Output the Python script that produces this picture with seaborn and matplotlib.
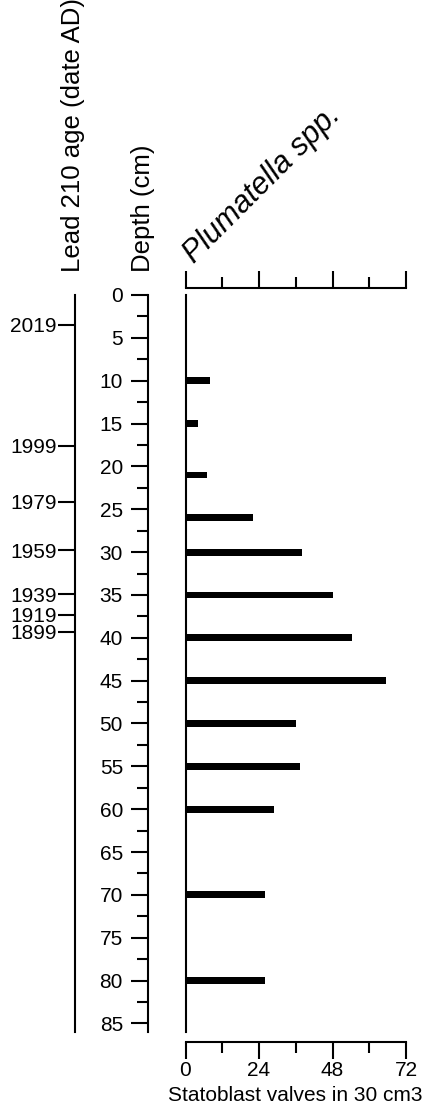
import numpy as np
import pandas as pd
import matplotlib
matplotlib.use("Agg")
import matplotlib.pyplot as plt
from matplotlib.ticker import MultipleLocator
import seaborn as sns

# data
depths = [10, 15, 21, 26, 30, 35, 40, 45, 50, 55, 60, 70, 80]
valves = [8, 4, 7, 22, 38, 48, 54.5, 65.5, 36, 37.5, 29, 26, 26]

age_depths = [3.5, 17.6, 24.1, 29.8, 34.9, 37.3, 39.3]
age_labels = ["2019", "1999", "1979", "1959", "1939", "1919", "1899"]

df = pd.DataFrame({"depth": depths, "valves": valves})

sns.set_style("white")
plt.rcParams["font.family"] = ["Liberation Sans", "DejaVu Sans"]
plt.rcParams["text.color"] = "black"
plt.rcParams["axes.labelcolor"] = "black"

W, H = 424, 1113
fig = plt.figure(figsize=(W / 100, H / 100), dpi=100)

y_top, y_bot = 295, 1032
bot = 1 - y_bot / H
hgt = (y_bot - y_top) / H

TICK_FS = 15
TITLE_FS = 18.5

# bar panel
ax = fig.add_axes([185.5 / W, bot, (406 - 185.5) / W, hgt])
sns.barplot(data=df, x="valves", y="depth", orient="y", native_scale=True,
            width=0.2, color="black", saturation=1, edgecolor="none", ax=ax)
ax.set_xlim(0, 72)
ax.set_ylim(86, 0)
ax.set_ylabel("")
ax.set_xlabel("Statoblast valves in 30 cm3", fontsize=TICK_FS, labelpad=4)
ax.spines["right"].set_visible(False)
for s in ["left", "top", "bottom"]:
    ax.spines[s].set_linewidth(1.5)
    ax.spines[s].set_color("black")
ax.spines["top"].set_position(("outward", 5))
ax.spines["bottom"].set_position(("outward", 7))
ax.xaxis.set_major_locator(MultipleLocator(24))
ax.xaxis.set_minor_locator(MultipleLocator(12))
ax.tick_params(axis="x", which="both", top=True, bottom=True, direction="out",
               width=1.5, colors="black", labelsize=TICK_FS)
ax.tick_params(axis="x", which="major", length=12, pad=2)
ax.tick_params(axis="x", which="minor", length=8)
ax.tick_params(axis="y", left=False, labelleft=False)
ax.text(0.06, 1.035, "Plumatella spp.", transform=ax.transAxes, rotation=45,
        fontsize=22, style="italic", ha="left", va="bottom",
        rotation_mode="anchor")

# depth axis
axd = fig.add_axes([148 / W, bot, 0.01, hgt])
axd.set_ylim(86, 0)
for s in ["right", "top", "bottom"]:
    axd.spines[s].set_visible(False)
axd.spines["left"].set_linewidth(1.5)
axd.spines["left"].set_color("black")
axd.yaxis.set_major_locator(MultipleLocator(5))
axd.yaxis.set_minor_locator(MultipleLocator(2.5))
axd.tick_params(axis="y", which="both", left=True, direction="out", width=1.5,
                colors="black", labelsize=TICK_FS, labelleft=True)
axd.tick_params(axis="y", which="major", length=12, pad=6)
axd.tick_params(axis="y", which="minor", length=8)
axd.set_xticks([])
axd.patch.set_alpha(0)
fig.text(143 / W, 1 - 272 / H, "Depth (cm)", rotation=90, fontsize=TITLE_FS,
         ha="center", va="bottom")

# age axis
axa = fig.add_axes([75 / W, bot, 0.01, hgt])
axa.set_ylim(86, 0)
for s in ["right", "top", "bottom"]:
    axa.spines[s].set_visible(False)
axa.spines["left"].set_linewidth(1.5)
axa.spines["left"].set_color("black")
axa.set_yticks(age_depths)
axa.set_yticklabels(age_labels)
axa.tick_params(axis="y", which="both", left=True, direction="out", width=1.5,
                length=12, pad=1, colors="black", labelsize=TICK_FS,
                labelleft=True)
axa.set_xticks([])
axa.patch.set_alpha(0)
fig.text(73 / W, 1 - 272 / H, "Lead 210 age (date AD)", rotation=90,
         fontsize=TITLE_FS, ha="center", va="bottom")

fig.savefig("out.png", dpi=100, facecolor="white")
